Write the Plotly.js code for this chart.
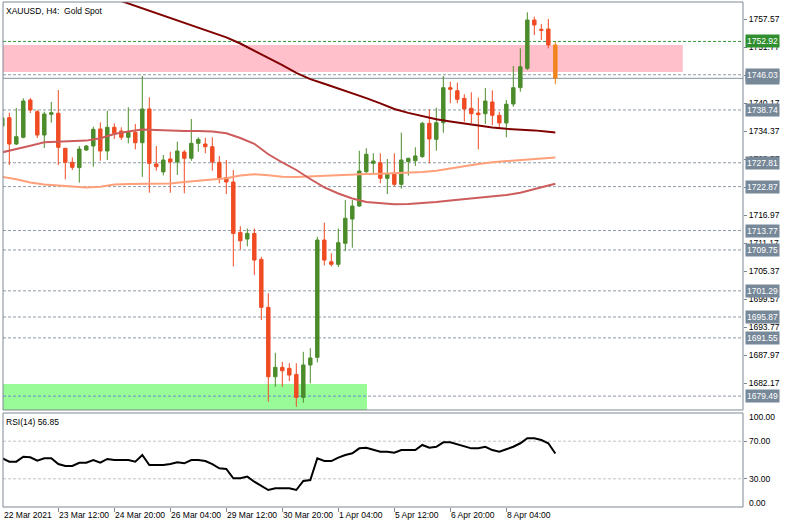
<!DOCTYPE html>
<html><head><meta charset="utf-8">
<script src="https://cdn.plot.ly/plotly-3.0.1.min.js"></script>
<style>html,body{margin:0;padding:0;background:#fff;}#chart{width:790px;height:526px;}</style>
</head><body><div id="chart"></div>
<script>
// ---- Data ----
const OPEN = [1735.42,1737.14,1731.69,1733.08,1740.80,1738.38,1733.55,1737.84,1738.05,1730.80,
1727.90,1726.80,1730.45,1731.28,1734.80,1730.24,1735.15,1734.38,1733.08,1734.11,
1731.96,1738.94,1727.55,1725.92,1728.59,1727.97,1730.03,1728.73,1731.83,1731.69,
1731.13,1727.90,1724.72,1723.83,1713.39,1712.02,1713.18,1707.80,1697.87,1683.50,
1685.45,1685.24,1683.99,1679.23,1685.94,1687.53,1711.81,1707.32,1706.78,1711.13,
1716.16,1718.85,1725.96,1727.69,1727.82,1724.59,1725.62,1723.34,1728.03,1728.23,
1729.07,1735.97,1732.66,1736.10,1743.35,1742.73,1741.15,1739.08,1738.11,1737.96,
1740.39,1737.63,1736.04,1739.97,1743.35,1747.36,1757.36,1755.44,1755.50,1752.19];
const HIGH = [1737.69,1738.17,1739.14,1741.15,1741.21,1738.73,1738.38,1740.39,1742.87,1730.86,
1728.93,1731.28,1731.48,1735.27,1736.18,1738.58,1735.97,1735.15,1739.29,1735.83,
1745.77,1741.36,1731.28,1729.42,1730.10,1732.17,1730.45,1736.87,1733.08,1732.99,
1733.08,1729.21,1728.38,1726.31,1714.67,1714.21,1714.21,1708.34,1700.77,1688.47,
1686.60,1686.29,1686.29,1688.67,1689.40,1712.49,1715.40,1709.07,1714.21,1720.10,
1720.10,1730.30,1730.80,1729.77,1729.77,1728.59,1729.77,1734.03,1728.85,1731.01,
1736.30,1738.87,1739.21,1745.77,1744.59,1744.38,1741.98,1742.39,1741.28,1743.29,
1742.81,1738.38,1740.80,1747.84,1751.50,1758.96,1758.05,1756.54,1757.57,1752.87];
const LOW = [1735.00,1727.34,1731.48,1732.87,1738.11,1732.93,1730.86,1736.10,1727.34,1724.38,
1726.31,1723.69,1730.24,1726.99,1728.23,1728.38,1732.72,1732.52,1731.82,1730.59,
1724.89,1721.60,1726.16,1725.18,1721.60,1725.27,1721.48,1728.23,1730.10,1729.77,
1726.16,1723.55,1721.34,1706.35,1709.84,1710.50,1704.55,1695.26,1678.34,1681.43,
1681.43,1682.62,1677.30,1678.13,1682.14,1686.49,1706.56,1706.35,1706.21,1709.49,
1710.22,1718.71,1725.62,1725.62,1723.55,1721.34,1722.89,1722.45,1725.14,1727.14,
1728.85,1727.69,1730.30,1734.03,1740.12,1740.12,1736.30,1735.97,1730.59,1735.83,
1735.56,1734.94,1733.08,1739.41,1742.52,1747.01,1754.25,1753.22,1751.50,1744.05];
const CLOSE = [1737.07,1731.69,1733.20,1740.59,1738.73,1733.55,1737.90,1738.17,1731.01,1727.90,
1726.86,1730.65,1731.28,1734.73,1730.24,1735.15,1733.91,1733.08,1734.11,1731.96,
1738.94,1727.69,1726.99,1728.38,1727.97,1730.24,1728.73,1731.83,1732.66,1731.13,
1727.97,1724.72,1723.83,1713.18,1711.65,1713.18,1707.66,1697.87,1683.50,1685.45,
1684.74,1683.85,1679.23,1685.94,1687.39,1711.81,1707.66,1706.78,1711.26,1716.31,
1718.85,1726.10,1729.56,1728.17,1724.59,1725.41,1723.34,1728.38,1728.73,1729.21,
1735.97,1732.72,1736.10,1743.35,1743.01,1740.94,1738.94,1737.96,1737.76,1740.59,
1737.63,1736.04,1739.93,1743.35,1747.70,1757.36,1756.33,1755.23,1752.19,1745.29];

const RSI = [51.8,48.2,48.2,53.5,52.9,49.3,51.8,51.8,45.7,43.6,
43.6,47.1,47.1,50.0,47.1,51.1,50.0,50.0,50.0,48.2,
55.3,44.7,44.7,44.7,45.7,47.5,46.5,50.0,50.0,48.9,
45.7,41.1,40.4,30.5,30.5,32.3,26.9,22.7,18.1,19.9,
19.9,19.9,18.1,27.7,28.7,51.8,48.9,48.9,52.5,55.3,
57.1,62.4,63.1,60.6,58.8,58.8,57.8,60.6,60.6,60.6,
66.0,63.1,64.1,68.8,68.8,66.7,64.1,62.4,62.4,64.1,
60.6,58.8,61.4,64.1,67.8,73.1,73.1,71.3,67.8,56.85];

// moving averages, sampled at bar indices
const MA_FAST_BARS = [0,2,4,6,8,10,12,14,16,18,20,22,24,26,28,30,32,34,36,38,40,42,44,46,48,50,52,54,56,58,60,62,64,66,68,70,72,74,76,78,79];
const MA_RED = [1729.97,1730.57,1731.32,1732.04,1732.17,1732.19,1732.39,1732.89,1733.76,1734.30,
1734.71,1734.59,1734.42,1734.38,1734.38,1734.30,1733.91,1732.93,1731.73,1729.56,
1727.86,1726.31,1724.44,1722.69,1721.44,1720.41,1719.68,1719.41,1719.23,1719.27,
1719.43,1719.68,1719.99,1720.26,1720.47,1720.72,1721.13,1721.59,1722.27,1723.08,1723.47];
const MA_SALMON = [1724.86,1724.40,1723.72,1723.31,1723.08,1722.89,1722.68,1722.85,1723.31,1723.41,
1723.45,1723.49,1723.53,1723.82,1724.07,1724.34,1724.59,1725.17,1725.42,1725.23,
1724.90,1724.86,1725.00,1725.21,1725.31,1725.38,1725.48,1725.54,1725.63,1725.73,
1725.87,1726.14,1726.64,1727.18,1727.55,1727.92,1728.17,1728.38,1728.59,1728.79,1728.92];
const MA_SLOW_BARS = [16,18,20,22,24,26,28,30,32,34,36,38,40,42,44,46,48,50,52,54,56,58,60,62,64,66,68,70,72,74,76,78,79];
const MA_MAROON = [1761.79,1760.80,1759.81,1758.81,1757.79,1756.75,1755.75,1754.75,1753.76,1752.50,
1751.05,1749.60,1748.00,1746.41,1745.13,1744.15,1743.18,1742.19,1741.19,1740.10,
1738.95,1738.13,1737.43,1736.80,1736.37,1735.93,1735.52,1735.09,1734.84,1734.69,
1734.51,1734.22,1734.07];

const TIME_TICK_BARS = [0,8,16,24,32,40,48,56,64,72];
const TIME_TICK_LABELS = ["22 Mar 2021","23 Mar 12:00","24 Mar 20:00","26 Mar 04:00","29 Mar 12:00","30 Mar 20:00","1 Apr 04:00","5 Apr 12:00","6 Apr 20:00","8 Apr 04:00"];
const PRICE_TICKS = [1757.57,1751.77,1745.97,1740.17,1734.37,1728.57,1722.77,1716.97,1711.17,1705.37,1699.57,1693.77,1687.97,1682.17];
const LEVELS = [1746.03,1738.74,1727.81,1722.87,1713.77,1709.75,1701.29,1695.87,1691.55,1679.49];
const GREEN_LEVEL = 1752.92;
const SUPPORT_LEVEL = 1679.49;
const RSI_LEVELS = [70,30];
const RSI_TICKS = [100,70,30,0];
const PINK_ZONE = {bar1: 97.2, low: 1746.60, high: 1752.19};
const GREEN_ZONE = {bar1: 52.1, high: 1682.0};

// ---- Build ----
const FONT = 'Liberation Sans, Arial, sans-serif';
const BARS = OPEN.map((_, i) => i);
const N = BARS.length;
const LAST = N - 1;
const bid = CLOSE[LAST];
const XR = [0.1, 105.81];
const YR = [1676.62, 1761.09];
const MAIN_DOM = [0.19208, 1];
const RSI_DOM = [0, 0.18614];
const GREEN = '#4c8c2b', RED = '#f04b23', ORANGE = '#f0841f';
const SLATE = '#778899';

const traces = [
  {type:'candlestick', x:BARS.slice(0,LAST), open:OPEN.slice(0,LAST), high:HIGH.slice(0,LAST), low:LOW.slice(0,LAST), close:CLOSE.slice(0,LAST),
   xaxis:'x', yaxis:'y', whiskerwidth:0,
   increasing:{line:{color:GREEN,width:1}, fillcolor:GREEN},
   decreasing:{line:{color:RED,width:1}, fillcolor:RED}, hoverinfo:'skip', showlegend:false},
  {type:'candlestick', x:BARS.slice(LAST), open:OPEN.slice(LAST), high:HIGH.slice(LAST), low:LOW.slice(LAST), close:CLOSE.slice(LAST),
   xaxis:'x', yaxis:'y', whiskerwidth:0,
   increasing:{line:{color:ORANGE,width:1}, fillcolor:ORANGE},
   decreasing:{line:{color:ORANGE,width:1}, fillcolor:ORANGE}, hoverinfo:'skip', showlegend:false},
  {type:'scatter', mode:'lines', x:MA_FAST_BARS, y:MA_SALMON, xaxis:'x', yaxis:'y', line:{color:'#ffa07a', width:2}, hoverinfo:'skip', showlegend:false},
  {type:'scatter', mode:'lines', x:MA_FAST_BARS, y:MA_RED, xaxis:'x', yaxis:'y', line:{color:'#cd5c5c', width:2}, hoverinfo:'skip', showlegend:false},
  {type:'scatter', mode:'lines', x:MA_SLOW_BARS, y:MA_MAROON, xaxis:'x', yaxis:'y', line:{color:'#800000', width:2}, hoverinfo:'skip', showlegend:false},
  {type:'scatter', mode:'lines', x:BARS, y:RSI, xaxis:'x', yaxis:'y2', line:{color:'#000000', width:2}, hoverinfo:'skip', showlegend:false}
];

const shapes = [
  {type:'rect', xref:'x', yref:'y', x0:XR[0], x1:PINK_ZONE.bar1, y0:PINK_ZONE.low, y1:PINK_ZONE.high, fillcolor:'#ffc0cb', line:{width:0}, layer:'below'},
  {type:'rect', xref:'x', yref:'y', x0:XR[0], x1:GREEN_ZONE.bar1, y0:YR[0], y1:GREEN_ZONE.high, fillcolor:'#98fb98', line:{width:0}, layer:'below'},
  {type:'line', xref:'paper', yref:'y', x0:0, x1:1, y0:bid, y1:bid, line:{color:'#8593a0', width:1}, layer:'below'},
  {type:'line', xref:'paper', yref:'y', x0:0, x1:1, y0:GREEN_LEVEL, y1:GREEN_LEVEL, line:{color:'#3a9a3a', width:1, dash:'3px,2px'}, layer:'below'}
];
LEVELS.forEach(v => shapes.push({type:'line', xref:'paper', yref:'y', x0:0, x1:1, y0:v, y1:v, line:{color:'#8e9aa8', width:1, dash:'3px,2px'}, layer:'below'}));
// inside the green zone the support line shows blue (MT4 xor drawing)
shapes.push({type:'line', xref:'x', yref:'y', x0:XR[0], x1:GREEN_ZONE.bar1, y0:SUPPORT_LEVEL, y1:SUPPORT_LEVEL, line:{color:'#6a8ad8', width:1, dash:'3px,2px'}, layer:'below'});
RSI_LEVELS.forEach(v => shapes.push({type:'line', xref:'paper', yref:'y2', x0:0, x1:1, y0:v, y1:v, line:{color:'#c4c4c4', width:1, dash:'3px,2px'}, layer:'below'}));
shapes.push({type:'rect', xref:'paper', yref:'paper', x0:0, x1:1, y0:MAIN_DOM[0], y1:MAIN_DOM[1], line:{color:'#7d8893', width:1}, fillcolor:'rgba(0,0,0,0)'});
shapes.push({type:'rect', xref:'paper', yref:'paper', x0:0, x1:1, y0:RSI_DOM[0], y1:RSI_DOM[1], line:{color:'#7d8893', width:1}, fillcolor:'rgba(0,0,0,0)'});

const TF = {family:FONT, size:8.5, color:'#000'};
const annotations = [
  {xref:'paper', yref:'paper', x:0.002, y:1, xanchor:'left', yanchor:'top', yshift:-2, text:'XAUUSD, H4:\u00a0 Gold Spot', showarrow:false, font:TF},
  {xref:'paper', yref:'paper', x:0.002, y:RSI_DOM[1], xanchor:'left', yanchor:'top', yshift:-2, text:'RSI(14) ' + RSI[LAST].toFixed(2), showarrow:false, font:TF}
];
TIME_TICK_BARS.forEach((b, k) => annotations.push({xref:'x', yref:'paper', x:Math.max(b, XR[0]), y:0, xanchor:'left', yanchor:'top', xshift:-1, yshift:-1, text:TIME_TICK_LABELS[k], showarrow:false, font:TF}));
// level labels on the price scale
const boxFont = {family:FONT, size:8.5, color:'#fff'};
annotations.push({xref:'paper', yref:'y', x:1, y:bid, xanchor:'left', xshift:2, text:bid.toFixed(2), showarrow:false, font:boxFont, bgcolor:SLATE, borderpad:1});
LEVELS.forEach(v => annotations.push({xref:'paper', yref:'y', x:1, y:v, xanchor:'left', xshift:2, text:v.toFixed(2), showarrow:false, font:boxFont, bgcolor:SLATE, borderpad:1}));
annotations.push({xref:'paper', yref:'y', x:1, y:GREEN_LEVEL, xanchor:'left', xshift:2, text:GREEN_LEVEL.toFixed(2), showarrow:false, font:boxFont, bgcolor:'#2f8f2f', borderpad:1});
// RSI scale labels (MT4 draws 100/0 inset)
RSI_TICKS.forEach(v => annotations.push({xref:'paper', yref:'y2', x:1, y:v, xanchor:'left', xshift:4,
  yshift: v === 100 ? -4 : (v === 0 ? 4 : 0), text:v.toFixed(2), showarrow:false, font:TF}));

const layout = {
  width:790, height:526,
  margin:{l:3, r:47, t:2, b:19},
  paper_bgcolor:'#fff', plot_bgcolor:'#fff',
  showlegend:false,
  xaxis:{domain:[0,1], range:XR, anchor:'y2', showgrid:false, zeroline:false, showline:false,
         tickvals:TIME_TICK_BARS, showticklabels:false, ticks:'outside', ticklen:4, tickcolor:'#7d8893',
         rangeslider:{visible:false}, fixedrange:true},
  yaxis:{domain:MAIN_DOM, range:YR, side:'right', anchor:'x', showgrid:false, zeroline:false, showline:false,
         tickvals:PRICE_TICKS, ticktext:PRICE_TICKS.map(v => v.toFixed(2)), ticks:'outside', ticklen:3, tickcolor:'#7d8893',
         tickfont:TF, fixedrange:true},
  yaxis2:{domain:RSI_DOM, range:[0,100], side:'right', anchor:'x', showgrid:false, zeroline:false, showline:false,
          tickvals:[70,30], showticklabels:false, ticks:'outside', ticklen:3, tickcolor:'#7d8893', fixedrange:true},
  shapes:shapes,
  annotations:annotations
};

Plotly.newPlot('chart', traces, layout, {staticPlot:true, displayModeBar:false});
</script></body></html>
